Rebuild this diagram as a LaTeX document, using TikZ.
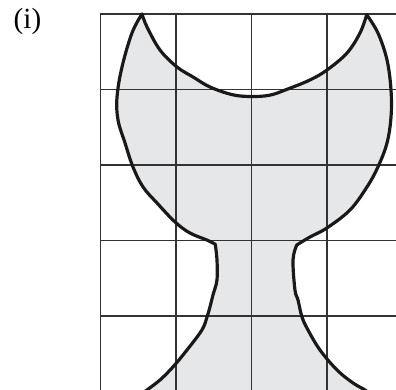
\documentclass[tikz,border=0pt]{standalone}
\usepackage{fontspec}
\setmainfont{Liberation Serif}
\usepackage{tikz}
\usetikzlibrary{positioning}

\newcommand{\gobletpath}{
  plot[smooth, tension=0.6] coordinates {(0.55,5.0) (0.417,4.748) (0.285,4.298)
    (0.219,3.901) (0.232,3.596) (0.325,3.291) (0.43,2.974) (0.563,2.709)
    (0.748,2.497) (0.987,2.245) (1.185,2.099) (1.411,2.005) (1.52,1.95)}
  -- plot[smooth, tension=0.6] coordinates {(1.52,1.95) (1.543,1.742)
    (1.543,1.477) (1.49,1.278) (1.45,1.119) (1.411,0.987) (1.344,0.815)
    (1.146,0.55) (0.96,0.325) (0.788,0.152) (0.616,0.02) (0.55,-0.03)}
  -- (0.45,-0.2) -- (3.65,-0.2) --
  plot[smooth, tension=0.6] coordinates {(3.56,-0.03) (3.503,0.02)
    (3.344,0.113) (3.132,0.285) (2.907,0.55) (2.748,0.815) (2.669,0.987)
    (2.616,1.212) (2.576,1.344) (2.55,1.742) (2.6,1.94)}
  -- plot[smooth, tension=0.6] coordinates {(2.6,1.94) (2.775,2.046)
    (3.0,2.166) (3.305,2.404) (3.53,2.709) (3.675,2.974) (3.795,3.291)
    (3.848,3.636) (3.848,3.993) (3.795,4.391) (3.675,4.748) (3.526,4.99)}
  -- plot[smooth, tension=0.6] coordinates {(3.526,4.99) (3.437,4.748)
    (3.265,4.483) (3.0,4.258) (2.775,4.126) (2.483,4.007) (2.245,3.925)
    (2.0,3.907) (1.75,3.93) (1.45,4.033) (1.225,4.166) (1.013,4.298)
    (0.788,4.523) (0.616,4.828) (0.55,5.0)}
  -- cycle}

\begin{document}
\begin{tikzpicture}[
    gridline/.style={black!80, line width=0.45pt},
    cupfill/.style={fill={rgb,255:red,230;green,231;blue,233}},
    cupline/.style={draw=black!90, line width=1.2pt, line join=round},
    partlabel/.style={font=\fontsize{11}{13}\selectfont, inner sep=0pt}
  ]
  \useasboundingbox (-1.331,0.02) rectangle (3.914,5.185);
  \clip (-1.331,0.02) rectangle (3.914,5.185);
  \node[partlabel] (lbl) at (-0.967,4.894) {(i)};
  % shape, grid, then outline on top
  \path[cupfill] \gobletpath;
  \draw[gridline] (0,0) grid (4,5);
  \path[cupline] \gobletpath;
\end{tikzpicture}
\end{document}
